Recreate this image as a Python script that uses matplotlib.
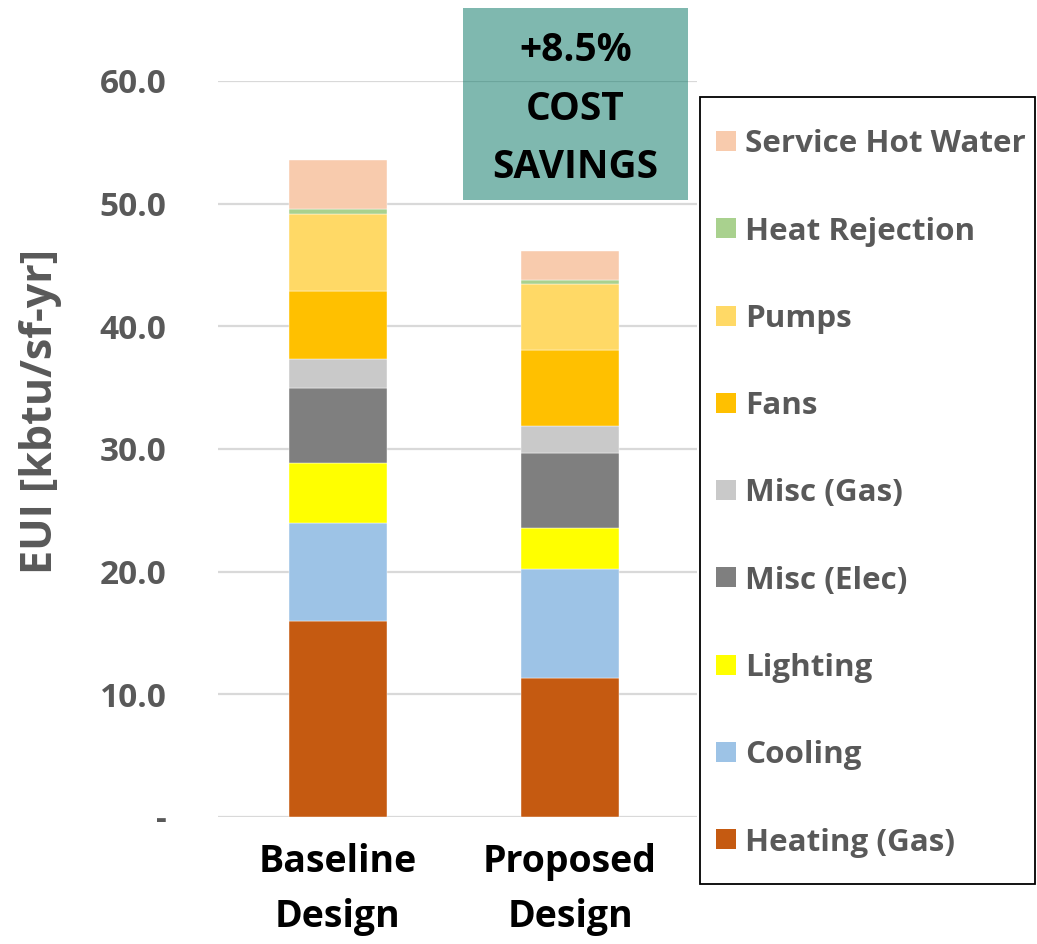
import matplotlib
matplotlib.use("Agg")
import matplotlib.pyplot as plt
from matplotlib.patches import Rectangle
import numpy as np

plt.rcParams['font.family'] = ['Open Sans', 'DejaVu Sans']

designs = ["Baseline\nDesign", "Proposed\nDesign"]
end_uses = ["Heating (Gas)", "Cooling", "Lighting", "Misc (Elec)", "Misc (Gas)",
            "Fans", "Pumps", "Heat Rejection", "Service Hot Water"]
baseline = [16.0, 7.95, 4.9, 6.15, 2.3, 5.6, 6.25, 0.4, 4.0]
proposed = [11.3, 8.9, 3.35, 6.15, 2.2, 6.2, 5.35, 0.3, 2.4]
colors = ["#C55A11", "#9DC3E6", "#FFFF00", "#7F7F7F", "#C9C9C9",
          "#FFC000", "#FFD966", "#A9D18E", "#F8CBAD"]
yticks = [0, 10, 20, 30, 40, 50, 60]
ytick_labels = ["-", "10.0", "20.0", "30.0", "40.0", "50.0", "60.0"]
callout = "+8.5%\nCOST\nSAVINGS"

W, H = 1037, 944
fig = plt.figure(figsize=(W / 100, H / 100), dpi=100)
ax = fig.add_axes([218 / W, 1 - 817 / H, (697 - 218) / W, (817 - 81) / H])

x = np.arange(len(designs))
bottom = np.zeros(len(designs))
for i, name in enumerate(end_uses):
    vals = np.array([baseline[i], proposed[i]])
    ax.bar(x, vals, bottom=bottom, width=0.42, color=colors[i], zorder=3,
           edgecolor="white", linewidth=0.3)
    bottom += vals

ax.set_ylim(0, 60)
ax.set_xlim(-0.517, 1.547)
ax.set_yticks(yticks)
ax.set_yticklabels(ytick_labels)
ax.set_xticks(x)
ax.set_xticklabels(designs)
ax.yaxis.grid(True, color="#D9D9D9", linewidth=1.6, zorder=0)
ax.set_axisbelow(True)
for s in ax.spines.values():
    s.set_visible(False)
ax.tick_params(axis="y", length=0, pad=37, labelsize=24, labelcolor="#595959")
ax.tick_params(axis="x", length=0, pad=19, labelsize=27, labelcolor="black")
for lab in ax.get_yticklabels() + ax.get_xticklabels():
    lab.set_fontweight("bold")
for lab in ax.get_xticklabels():
    lab.set_linespacing(1.58)
ax.set_ylabel("EUI [kbtu/sf-yr]", fontsize=31, fontweight="bold", color="#595959",
              va="center")
ax.yaxis.set_label_coords(-0.37, 0.551)

# callout box
fig.patches.append(Rectangle((463 / W, 1 - 200 / H), (688 - 463) / W, (200 - 8) / H,
                             transform=fig.transFigure, facecolor=(0.0, 0.45, 0.38),
                             alpha=0.5, edgecolor="none", zorder=5))
for k, line in enumerate(callout.split("\n")):
    fig.text((463 + 688) / 2 / W, 1 - (61 + 58.5 * k) / H, line, ha="center",
             va="baseline", fontsize=28, fontweight="bold", color="black", zorder=6)

# legend
fig.patches.append(Rectangle((700 / W, 1 - 884 / H), (1035 - 700) / W, (884 - 97) / H,
                             transform=fig.transFigure, facecolor="white",
                             edgecolor="black", linewidth=1.3, zorder=5))
y0, dy = 141, 87.25
for j, name in enumerate(end_uses[::-1]):
    yc = y0 + j * dy
    c = colors[::-1][j]
    fig.patches.append(Rectangle((716 / W, 1 - (yc + 10) / H), 20 / W, 20 / H,
                                 transform=fig.transFigure, facecolor=c,
                                 edgecolor="none", zorder=6))
    fig.text(745 / W, 1 - (yc + 11.5) / H, name, ha="left", va="baseline", fontsize=22.6,
             fontweight="bold", color="#595959", zorder=6)

fig.savefig("out.png", dpi=100)
